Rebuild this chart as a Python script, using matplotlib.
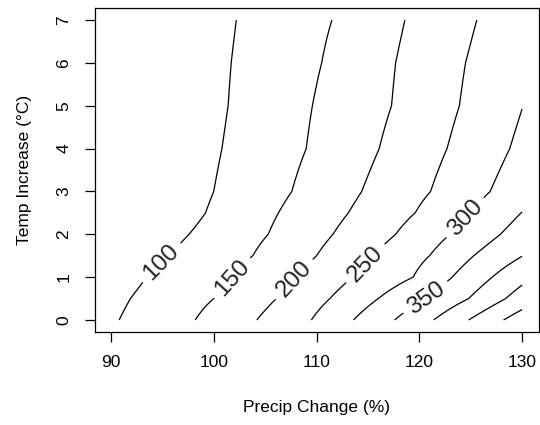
import numpy as np
import matplotlib
matplotlib.use("Agg")
import matplotlib.pyplot as plt
from matplotlib import font_manager

# === Data ===
# temperature rows (deg C) and the precip change (%) where each contour crosses them
temp_rows = [0, 0.5, 1, 1.5, 2, 2.5, 3, 4, 5, 6, 7]
levels = [100, 150, 200, 250, 300, 350, 400, 450, 500]

# None = the contour has left the plot on the right side
precip_100 = [90.8, 91.9, 93.5, 95.5, 97.6, 99.2, 100.0, 100.8, 101.4, 101.7, 102.2]
precip_150 = [98.2, 100.0, 101.9, 103.8, 105.3, 106.3, 107.6, 109.0, 109.6, 110.5, 111.5]
precip_200 = [104.2, 106.1, 108.1, 110.0, 111.6, 113.1, 114.4, 116.1, 117.3, 117.7, 118.6]
precip_250 = [109.5, 111.3, 113.5, 115.5, 117.7, 119.6, 121.1, 122.7, 123.9, 124.5, 125.6]
precip_300 = [113.6, 116.0, 119.4, 121.0, 123.0, 125.0, 126.9, 128.8, 130.1, None, None]
precip_350 = [117.6, 120.6, 123.2, 125.3, 127.9, 129.9, None, None, None, None, None]
precip_400 = [121.4, 124.8, 127.1, 130.1, None, None, None, None, None, None, None]
precip_450 = [124.8, 128.4, None, None, None, None, None, None, None, None, None]
precip_500 = [128.2, None, None, None, None, None, None, None, None, None, None]

crossings = [precip_100, precip_150, precip_200, precip_250, precip_300,
             precip_350, precip_400, precip_450, precip_500]

x_ticks = [90, 100, 110, 120, 130]
y_ticks = [0, 1, 2, 3, 4, 5, 6, 7]

# where the labels go (precip, temp)
label_spots = [(95.0, 1.32), (101.8, 0.98), (107.9, 0.93), (114.8, 1.31),
               (124.45, 2.39), (120.66, 0.51)]

# === Build the grid for contour() ===
precip_grid = np.linspace(90, 130, 401)


def fill_row(i):
    xs = [c[i] for c in crossings if c[i] is not None]
    ys = [lv for c, lv in zip(crossings, levels) if c[i] is not None]
    z = np.interp(precip_grid, xs, ys)
    # carry the end slopes past the first/last crossing
    left = precip_grid < xs[0]
    z[left] = ys[0] + (precip_grid[left] - xs[0]) * (ys[1] - ys[0]) / (xs[1] - xs[0])
    right = precip_grid > xs[-1]
    z[right] = ys[-1] + (precip_grid[right] - xs[-1]) * (ys[-1] - ys[-2]) / (xs[-1] - xs[-2])
    return z


Z = np.array([fill_row(i) for i in range(len(temp_rows))])

plt.rcParams["font.family"] = ["Liberation Sans", "DejaVu Sans"]
plt.rcParams["font.size"] = 12.5

# === Plot ===
fig = plt.figure(figsize=(5.4, 4.25), dpi=100)
ax = fig.add_axes([94.5 / 540, 93 / 425, 444 / 540, 324 / 425])

cs = ax.contour(precip_grid, temp_rows, Z, levels=levels, colors="black", linewidths=0.9)
labels = ax.clabel(cs, levels=levels[:6], manual=label_spots, inline=True,
                   inline_spacing=9, fmt="%d", fontsize=17.5)
for t in labels:
    t.set_fontfamily(["Liberation Sans", "DejaVu Sans"])
    t.set_color("#222222")

ax.set_xlim(88.4, 131.6)
ax.set_ylim(-0.28, 7.28)
ax.set_xticks(x_ticks)
ax.set_yticks(y_ticks)
ax.set_yticklabels([str(v) for v in y_ticks], rotation=90, va="center")
ax.tick_params(direction="out", length=7.5, width=0.9, pad=9)
for s in ax.spines.values():
    s.set_linewidth(0.9)

ax.set_xlabel("Precip Change (%)", labelpad=22)
ax.set_ylabel("Temp Increase (\u00b0C)", labelpad=18)

fig.savefig("out.png", dpi=100)
